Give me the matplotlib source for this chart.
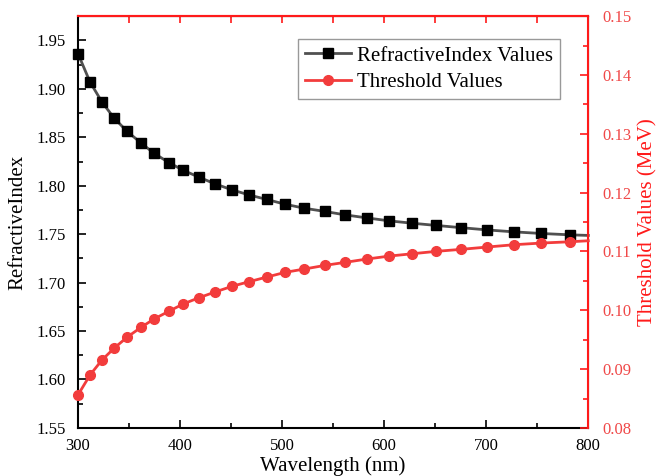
import matplotlib
matplotlib.use("Agg")
import matplotlib.pyplot as plt
from matplotlib.ticker import MultipleLocator

plt.rcParams['font.family'] = ['Liberation Serif', 'DejaVu Serif']

wavelength = [300, 311.8, 323.5, 335.3, 348, 361.8, 374.5, 389, 403, 418.6,
              434.3, 451, 467.6, 485, 503, 521.6, 542.2, 561.8, 583, 605.2,
              627.5, 651, 675.5, 700.7, 726.8, 754, 782.4, 800]
refractive = [1.9363, 1.9070, 1.8864, 1.8699, 1.8562, 1.8441, 1.8335, 1.8239,
              1.8160, 1.8088, 1.8019, 1.7957, 1.7905, 1.7858, 1.7809, 1.7768,
              1.7734, 1.7699, 1.7668, 1.7637, 1.7613, 1.7590, 1.7567, 1.7544,
              1.7524, 1.7507, 1.7493, 1.7487]
threshold = [0.08561, 0.08900, 0.09155, 0.09354, 0.09541, 0.09711, 0.09852,
             0.09983, 0.10107, 0.10214, 0.10311, 0.10408, 0.10486, 0.10565,
             0.10645, 0.10701, 0.10764, 0.10815, 0.10871, 0.10922, 0.10961,
             0.11002, 0.11036, 0.11075, 0.11114, 0.11143, 0.11165, 0.11182]
n_marked = 27  # last entry only carries the line to the axis edge

red = '#ff1a1a'
fig = plt.figure(figsize=(6.61, 4.76), dpi=100)
ax = fig.add_axes([0.118, 0.101, 0.772, 0.865])
ax2 = ax.twinx()

l1, = ax.plot(wavelength, refractive, color='#505050', lw=2,
              marker='s', ms=6.5, mfc='black', mec='black',
              markevery=list(range(n_marked)), clip_on=False, zorder=3,
              label='RefractiveIndex Values')
l2, = ax2.plot(wavelength, threshold, color='#f23c3c', lw=2,
               marker='o', ms=7, mfc='#f23c3c', mec='#f23c3c',
               markevery=list(range(n_marked)), clip_on=False, zorder=3,
               label='Threshold Values')

ax.set_xlim(300, 800)
ax.set_ylim(1.55, 1.975)
ax2.set_ylim(0.08, 0.15)

ax.xaxis.set_major_locator(MultipleLocator(100))
ax.xaxis.set_minor_locator(MultipleLocator(50))
ax.yaxis.set_major_locator(MultipleLocator(0.05))
ax.yaxis.set_minor_locator(MultipleLocator(0.025))
ax2.yaxis.set_major_locator(MultipleLocator(0.01))
ax2.yaxis.set_minor_locator(MultipleLocator(0.005))
ax.yaxis.set_major_formatter(plt.FormatStrFormatter('%.2f'))
ax2.yaxis.set_major_formatter(plt.FormatStrFormatter('%.2f'))

ax.tick_params(which='both', direction='in', labelsize=12, width=1.2)
ax.tick_params(which='major', length=6)
ax.tick_params(which='minor', length=3.5)
ax.tick_params(axis='x', pad=7)
ax.tick_params(axis='y', pad=9)
ax2.tick_params(which='both', direction='in', colors=red, labelsize=12, width=1.2)
ax2.tick_params(which='major', length=6, pad=10)
ax2.tick_params(which='minor', length=3.5)
ax2.tick_params(axis='y', labelcolor='#f04848')

for s in ['left', 'bottom']:
    ax.spines[s].set_linewidth(1.5)
ax2.spines['right'].set_color(red)
ax2.spines['right'].set_linewidth(1.5)
ax2.spines['top'].set_color(red)
ax2.spines['top'].set_linewidth(1.5)
ax2.spines['left'].set_visible(False)
ax2.spines['bottom'].set_visible(False)

top = ax.secondary_xaxis('top')
top.xaxis.set_major_locator(MultipleLocator(50))
top.tick_params(direction='in', length=5, width=1.2, color=red, labeltop=False)
top.spines['top'].set_color(red)
top.spines['top'].set_linewidth(1.5)

ax.set_xlabel('Wavelength (nm)', fontsize=15, labelpad=2)
ax.set_ylabel('RefractiveIndex', fontsize=15, labelpad=6)
ax2.set_ylabel('Threshold Values (MeV)', fontsize=15, color=red, labelpad=5)

leg = ax.legend(handles=[l1, l2], loc='upper right', bbox_to_anchor=(0.945, 0.945),
                fontsize=15, frameon=True, fancybox=False, edgecolor='#808080',
                borderpad=0.35, labelspacing=0.32, handlelength=2.2,
                handletextpad=0.3, borderaxespad=0)
leg.get_frame().set_linewidth(1.0)

fig.savefig('out.png', dpi=100)
